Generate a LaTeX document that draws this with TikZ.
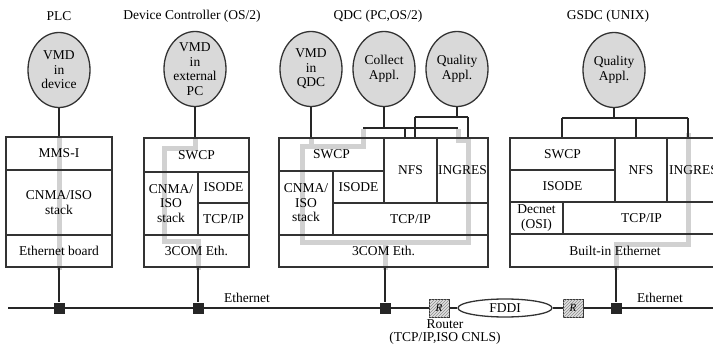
\documentclass[tikz,border=0pt]{standalone}
\usepackage{fontspec}
\setmainfont{Liberation Serif}
\usetikzlibrary{shapes.geometric}
\usetikzlibrary{patterns}
\tikzset{
cell/.style 2 args={draw=black!80, line width=1.3pt, minimum width=#1, minimum height=#2, inner sep=0pt, align=center},
app/.style={ellipse, draw=black!80, line width=1.3pt, fill=black!15, minimum width=62pt, minimum height=75pt, inner sep=0pt},
flow/.style={draw=black!18, line width=5pt},
wire/.style={draw=black!85, line width=1.3pt},
tap/.style={rectangle, fill=black!85, minimum size=11pt, inner sep=0pt},
router/.style={rectangle, draw=black!80, line width=1pt, fill=black!12, postaction={pattern=north east lines, pattern color=black!45}, minimum width=20pt, minimum height=18pt, inner sep=0pt, font=\fontsize{11}{12}\selectfont\itshape},
}

\begin{document}
\begin{tikzpicture}[x=1pt, y=-1pt, font=\fontsize{13.5}{14.5}\selectfont]
		\clip (0,0) rectangle (713,350);
		\node (t1) at (59,16) {PLC};
		\node (t2) at (192,16) {Device Controller (OS/2)};
		\node (t3) at (378,16) {QDC (PC,OS/2)};
		\node (t4) at (608,16) {GSDC (UNIX)};
		\draw [flow] (59,137) -- (59,270);
		\draw [flow] (195,138) -- (195,149) -- (164,149) -- (164,242) -- (198,242) -- (198,270);
		\draw [flow] (311,138) -- (311,147);
		\draw [flow] (363,129) -- (363,147) -- (302,147) -- (302,243) -- (468,243) -- (468,141) -- (458,141) -- (458,129);
		\draw [flow] (385,243) -- (385,270);
		\draw [flow] (688,133) -- (688,245) -- (616,245) -- (616,270);
		\node [cell={106pt}{33pt}] (p1) at (59,153.5) {MMS-I};
		\node [cell={106pt}{65pt}] (p2) at (59,202.5) {CNMA/ISO\\stack};
		\node [cell={106pt}{32pt}] (p3) at (59,251) {Ethernet board};
		\node [cell={105pt}{34pt}] (d1) at (196.5,155) {SWCP};
		\node [cell={54pt}{63pt}] (d2) at (171,203.5) {CNMA/\\ISO\\stack};
		\node [cell={51pt}{31pt}] (d3) at (223.5,187.5) {ISODE};
		\node [cell={51pt}{32pt}] (d4) at (223.5,219) {TCP/IP};
		\node [cell={105pt}{32pt}] (d5) at (196.5,251) {3COM Eth.};
		\node [cell={105pt}{33pt}] (q1) at (331.5,154.5) {SWCP};
		\node [cell={54pt}{64pt}] (q2) at (306,203) {CNMA/\\ISO\\stack};
		\node [cell={51pt}{32pt}] (q3) at (358.5,187) {ISODE};
		\node [cell={53pt}{65pt}] (q4) at (410.5,170.5) {NFS};
		\node [cell={51pt}{65pt}] (q5) at (462.5,170.5) {INGRES};
		\node [cell={155pt}{32pt}] (q6) at (410.5,219) {TCP/IP};
		\node [cell={209pt}{32pt}] (q7) at (383.5,251) {3COM Eth.};
		\node [cell={105pt}{32pt}] (g1) at (562.5,154) {SWCP};
		\node [cell={105pt}{32pt}] (g2) at (562.5,186) {ISODE};
		\node [cell={52pt}{64pt}] (g3) at (641,170) {NFS};
		\node [cell={53pt}{64pt}] (g4) at (693.5,170) {INGRES};
		\node [cell={53pt}{32pt}] (g5) at (536.5,218) {Decnet\\(OSI)};
		\node [cell={157pt}{32pt}] (g6) at (641.5,218) {TCP/IP};
		\node [cell={210pt}{33pt}] (g7) at (615,250.5) {Built-in Ethernet};
		\node [app, label={[align=center]center:VMD\\in\\device}] (e1) at (59,70) {};
		\node [app, label={[align=center]center:VMD\\in\\external\\PC}] (e2) at (195,69) {};
		\node [app, label={[align=center]center:VMD\\in\\QDC}] (e3) at (311,69) {};
		\node [app, label={[align=center]center:Collect\\Appl.}] (e4) at (384,69) {};
		\node [app, label={[align=center]center:Quality\\Appl.}] (e5) at (457,69) {};
		\node [app, label={[align=center]center:Quality\\Appl.}] (e6) at (614,70) {};
		\draw [wire] (e1) to (e1 |- p1.north);
		\draw [wire] (e2) to (e2 |- d1.north);
		\draw [wire] (e3) to (e3 |- q1.north);
		\coordinate (qa1) at (363,128);
		\coordinate (qa2) at (458,128);
		\coordinate (qa3) at (405,128);
		\coordinate (qb1) at (415,117);
		\coordinate (qb2) at (468,117);
		\draw [wire] (e4) to (e4 |- qa1);
		\draw [wire] (qa1) to (qa2);
		\draw [wire] (qa3) to (qa3 |- q4.north);
		\draw [wire] (e5) to (e5 |- qb1);
		\draw [wire] (qb1) to (qb2);
		\draw [wire] (qb1) to (qb1 |- q4.north);
		\draw [wire] (qb2) to (qb2 |- q5.north);
		\coordinate (gb1) at (562,118);
		\coordinate (gb2) at (688,118);
		\coordinate (gb3) at (636,118);
		\draw [wire] (e6) to (e6 |- gb1);
		\draw [wire] (gb1) to (gb2);
		\draw [wire] (gb1) to (gb1 |- g1.north);
		\draw [wire] (gb3) to (gb3 |- g3.north);
		\draw [wire] (gb2) to (gb2 |- g4.north);
		\coordinate (w0) at (8,308);
		\coordinate (w9) at (720,308);
		\node [router] (r1) at (439,308) {R};
		\node [ellipse, draw=black!80, line width=1.3pt, minimum width=94pt, minimum height=18pt, inner sep=0pt] (fd) at (505,308) {FDDI};
		\node [router] (r2) at (573,308) {R};
		\draw [wire] (w0) to (r1);
		\draw [wire] (r1) to (fd);
		\draw [wire] (fd) to (r2);
		\draw [wire] (r2) to (w9);
		\node [tap] (s1) at (59,308) {};
		\node [tap] (s2) at (198,308) {};
		\node [tap] (s3) at (385,308) {};
		\node [tap] (s4) at (616,308) {};
		\draw [wire] (s1 |- p3.south) to (s1);
		\draw [wire] (s2 |- d5.south) to (s2);
		\draw [wire] (s3 |- q7.south) to (s3);
		\draw [wire] (s4 |- g7.south) to (s4);
		\node (l1) at (247,298) {Ethernet};
		\node (l2) at (660,298) {Ethernet};
		\node [align=center, font=\fontsize{13.5}{12.5}\selectfont] (l3) at (445,332) {Router\\(TCP/IP,ISO CNLS)};
	\end{tikzpicture}
\end{document}
